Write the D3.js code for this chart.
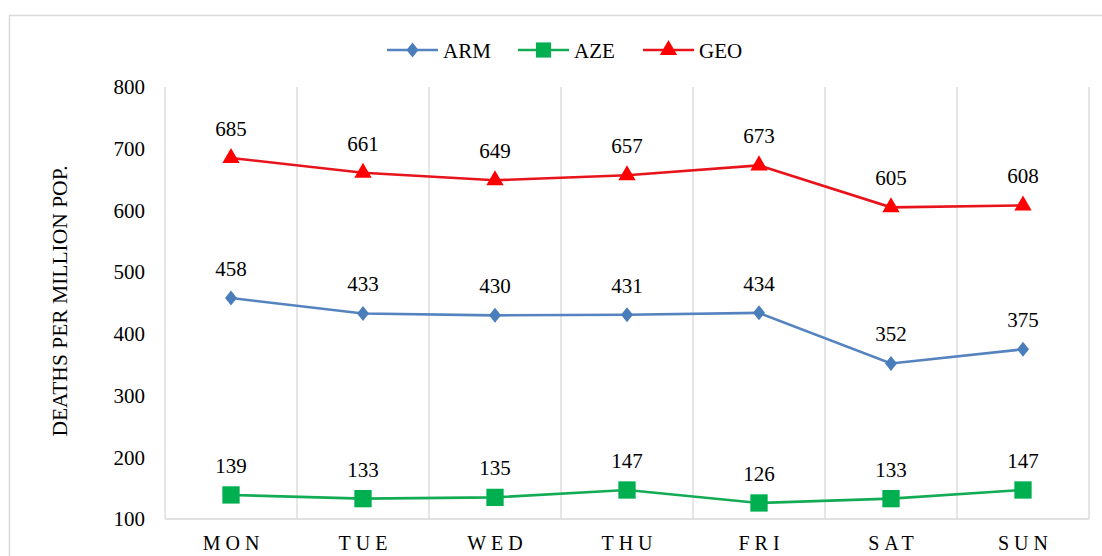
<!DOCTYPE html>
<html>
<head>
<meta charset="utf-8">
<script src="https://cdn.jsdelivr.net/npm/d3@7"></script>
<style>
  body { margin: 0; background: #fff; }
  svg { display: block; }
  svg text { font-family: "Liberation Serif", "DejaVu Serif", "Times New Roman", Tinos, serif; }
</style>
</head>
<body>
<svg id="chart" width="1102" height="556"></svg>
<script>
// Chart data
const days = ["MON", "TUE", "WED", "THU", "FRI", "SAT", "SUN"];
const arm = [458, 433, 430, 431, 434, 352, 375];
const aze = [139, 133, 135, 147, 126, 133, 147];
const geo = [685, 661, 649, 657, 673, 605, 608];
const yTicks = [100, 200, 300, 400, 500, 600, 700, 800];

// slightly squat diamond like the Excel marker
const diamond = {
  draw(context, size) {
    const h = Math.sqrt(size / 1.6);
    const w = h * 0.8;
    context.moveTo(0, -h);
    context.lineTo(w, 0);
    context.lineTo(0, h);
    context.lineTo(-w, 0);
    context.closePath();
  }
};

const series = [
  { name: "ARM", values: arm, line: "#5583c0", fill: "#4a7ebb", shape: diamond, size: 90 },
  { name: "AZE", values: aze, line: "#14ab55", fill: "#00b050", shape: d3.symbolSquare, size: 300 },
  { name: "GEO", values: geo, line: "#e8141b", fill: "#ff0000", shape: d3.symbolTriangle, size: 130 }
];

const svg = d3.select("#chart");
const margin = { top: 87, right: 13, bottom: 37, left: 165 };
const width = 1102 - margin.left - margin.right;
const height = 556 - margin.top - margin.bottom;

// outer chart border
svg.append("rect")
  .attr("x", 9.5).attr("y", 15.5)
  .attr("width", 1102).attr("height", 600)
  .attr("fill", "none").attr("stroke", "#d9d9d9").attr("stroke-width", 1.5);

const g = svg.append("g").attr("transform", `translate(${margin.left},${margin.top})`);

const x = d3.scaleBand().domain(days).range([0, width]);
const y = d3.scaleLinear().domain([100, 800]).range([height, 0]);

// vertical grid lines at category boundaries
const bounds = days.map(d => x(d)).concat([width]);
g.selectAll("line.grid")
  .data(bounds)
  .enter()
  .append("line")
  .attr("x1", d => d).attr("x2", d => d)
  .attr("y1", 0).attr("y2", height)
  .attr("stroke", "#d9d9d9").attr("stroke-width", 1.3);

// bottom axis line
g.append("line")
  .attr("x1", 0).attr("x2", width)
  .attr("y1", height).attr("y2", height)
  .attr("stroke", "#d9d9d9").attr("stroke-width", 1.3);

// y axis labels
const yAxis = g.append("g")
  .call(d3.axisLeft(y).tickValues(yTicks).tickSize(0).tickPadding(20));
yAxis.attr("font-family", null);
yAxis.select(".domain").remove();
yAxis.selectAll("text")
  .style("font-size", "21px")
  .attr("fill", "#000");

// x axis labels
const xAxis = g.append("g").attr("transform", `translate(0,${height})`)
  .call(d3.axisBottom(x).tickSize(0).tickPadding(0));
xAxis.attr("font-family", null);
xAxis.select(".domain").remove();
xAxis.selectAll("text")
  .attr("dy", null)
  .attr("y", 31)
  .attr("dx", 2.5)
  .style("font-size", "20px")
  .style("letter-spacing", "5px")
  .attr("fill", "#000");

// y axis title
svg.append("text")
  .attr("transform", "translate(67,301) rotate(-90)")
  .attr("text-anchor", "middle")
  .style("font-size", "21.5px")
  .text("DEATHS PER MILLION POP.");

const cx = i => x(days[i]) + x.bandwidth() / 2;
const line = d3.line().x((d, i) => cx(i)).y(d => y(d));

series.forEach(s => {
  g.append("path").datum(s.values)
    .attr("fill", "none")
    .attr("stroke", s.line)
    .attr("stroke-width", 2.6)
    .attr("d", line);

  g.selectAll("path.m-" + s.name)
    .data(s.values)
    .enter()
    .append("path")
    .attr("transform", (d, i) => `translate(${cx(i)},${y(d)})`)
    .attr("d", d3.symbol().type(s.shape).size(s.size))
    .attr("fill", s.fill);

  g.selectAll("text.l-" + s.name)
    .data(s.values)
    .enter()
    .append("text")
    .attr("x", (d, i) => cx(i))
    .attr("y", d => y(d) - 22)
    .attr("text-anchor", "middle")
    .style("font-size", "21px")
    .text(d => d);
});

// legend
const legendX = [387, 518, 643];
const legend = svg.append("g");
series.forEach((s, i) => {
  const lx = legendX[i];
  legend.append("line")
    .attr("x1", lx).attr("x2", lx + 51)
    .attr("y1", 50).attr("y2", 50)
    .attr("stroke", s.line).attr("stroke-width", 2.6);
  legend.append("path")
    .attr("transform", `translate(${lx + 25.5},50)`)
    .attr("d", d3.symbol().type(s.shape).size(s.name === "AZE" ? 230 : s.size))
    .attr("fill", s.fill);
  legend.append("text")
    .attr("x", lx + 56).attr("y", 57.5)
    .style("font-size", "21px")
    .text(s.name);
});
</script>
</body>
</html>
